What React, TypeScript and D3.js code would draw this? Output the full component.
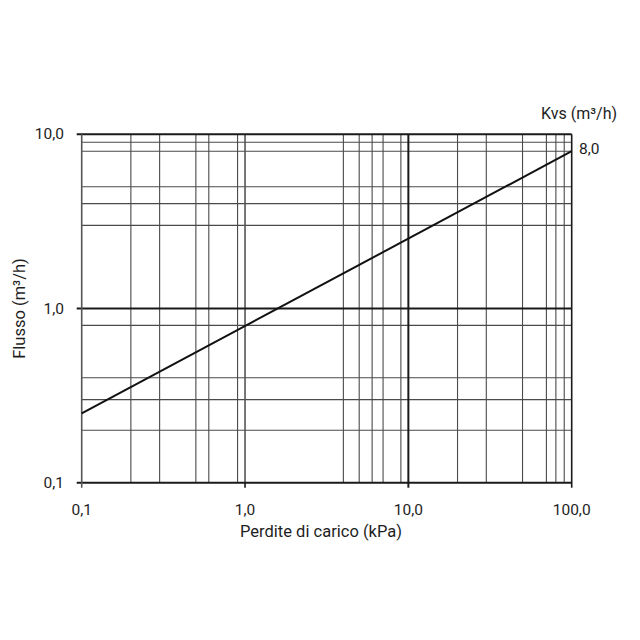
import React from "react";
import * as d3 from "d3";

const xDomain = [0.1, 100];
const yDomain = [0.1, 10];
const xTickValues = [0.1, 1, 10, 100];
const xTickLabels = ["0,1", "1,0", "10,0", "100,0"];
const yTickValues = [0.1, 1, 10];
const yTickLabels = ["0,1", "1,0", "10,0"];
const xMinorGrid = [0.2, 0.3, 0.5, 0.6, 0.9, 4, 5, 6, 7, 9, 20, 30, 50, 70, 80, 90];
const yMinorGrid = [0.2, 0.3, 0.4, 0.8, 3, 4, 5, 8, 9];
const pressureDrop = [0.1, 100];
const flow = [0.25, 8.0];
const kvsLabel = "8,0";

const W = 640;
const H = 640;
const left = 81.7;
const right = 571.7;
const top = 134.3;
const bottom = 482.7;

export default function App() {
  const x = d3.scaleLog().domain(xDomain).range([left, right]);
  const y = d3.scaleLog().domain(yDomain).range([bottom, top]);
  const line = d3
    .line<number>()
    .x((_, i) => x(pressureDrop[i]))
    .y((d) => y(d));
  const font = "Roboto, 'DejaVu Sans', sans-serif";
  const txt = "#1e1e1e";
  return (
    <svg
      width={W}
      height={H}
      style={{ position: "absolute", left: 0, top: 0, background: "#fff" }}
      fontFamily={font}
    >
      <rect x={0} y={0} width={W} height={H} fill="#fff" />
      {/* minor grid */}
      {xMinorGrid.map((v) => (
        <line key={"xg" + v} x1={x(v)} x2={x(v)} y1={top} y2={bottom} stroke="#4a4a4a" strokeWidth={1.1} />
      ))}
      {yMinorGrid.map((v) => (
        <line key={"yg" + v} x1={left} x2={right} y1={y(v)} y2={y(v)} stroke="#4a4a4a" strokeWidth={1.1} />
      ))}
      {/* major lines */}
      <line x1={x(1)} x2={x(1)} y1={top} y2={bottom} stroke="#555" strokeWidth={1.6} />
      <line x1={x(10)} x2={x(10)} y1={top} y2={bottom} stroke="#1a1a1a" strokeWidth={2} />
      <line x1={left - 5} x2={right} y1={y(1)} y2={y(1)} stroke="#1a1a1a" strokeWidth={2} />
      {/* borders */}
      <line x1={left - 5} x2={right} y1={top} y2={top} stroke="#1a1a1a" strokeWidth={2} />
      <line x1={left - 5} x2={right} y1={bottom} y2={bottom} stroke="#1a1a1a" strokeWidth={2} />
      <line x1={left} x2={left} y1={top} y2={bottom + 5} stroke="#555" strokeWidth={1.6} />
      <line x1={right} x2={right} y1={top} y2={bottom + 5} stroke="#1a1a1a" strokeWidth={1.6} />
      <line x1={x(1)} x2={x(1)} y1={bottom} y2={bottom + 5} stroke="#1a1a1a" strokeWidth={1.6} />
      <line x1={x(10)} x2={x(10)} y1={bottom} y2={bottom + 5} stroke="#1a1a1a" strokeWidth={2} />
      {/* curve */}
      <path d={line(flow) || ""} fill="none" stroke="#111" strokeWidth={2} />
      {/* tick labels */}
      {xTickValues.map((v, i) => (
        <text key={"xl" + v} x={x(v)} y={515} textAnchor="middle" fontSize={15.5} fill={txt}>
          {xTickLabels[i]}
        </text>
      ))}
      {yTickValues.map((v, i) => (
        <text key={"yl" + v} x={64} y={y(v) + 5} textAnchor="end" fontSize={15.5} fill={txt}>
          {yTickLabels[i]}
        </text>
      ))}
      {/* axis titles */}
      <text x={321} y={537} textAnchor="middle" fontSize={16.5} fill={txt}>
        Perdite di carico (kPa)
      </text>
      <text
        transform={`translate(25, ${y(1)}) rotate(-90)`}
        textAnchor="middle"
        fontSize={16.5}
        fill={txt}
      >
        Flusso (m³/h)
      </text>
      <text x={541} y={119} textAnchor="start" fontSize={16} fill={txt}>
        Kvs (m³/h)
      </text>
      <text x={579} y={154} textAnchor="start" fontSize={15.5} fill={txt}>
        {kvsLabel}
      </text>
    </svg>
  );
}
